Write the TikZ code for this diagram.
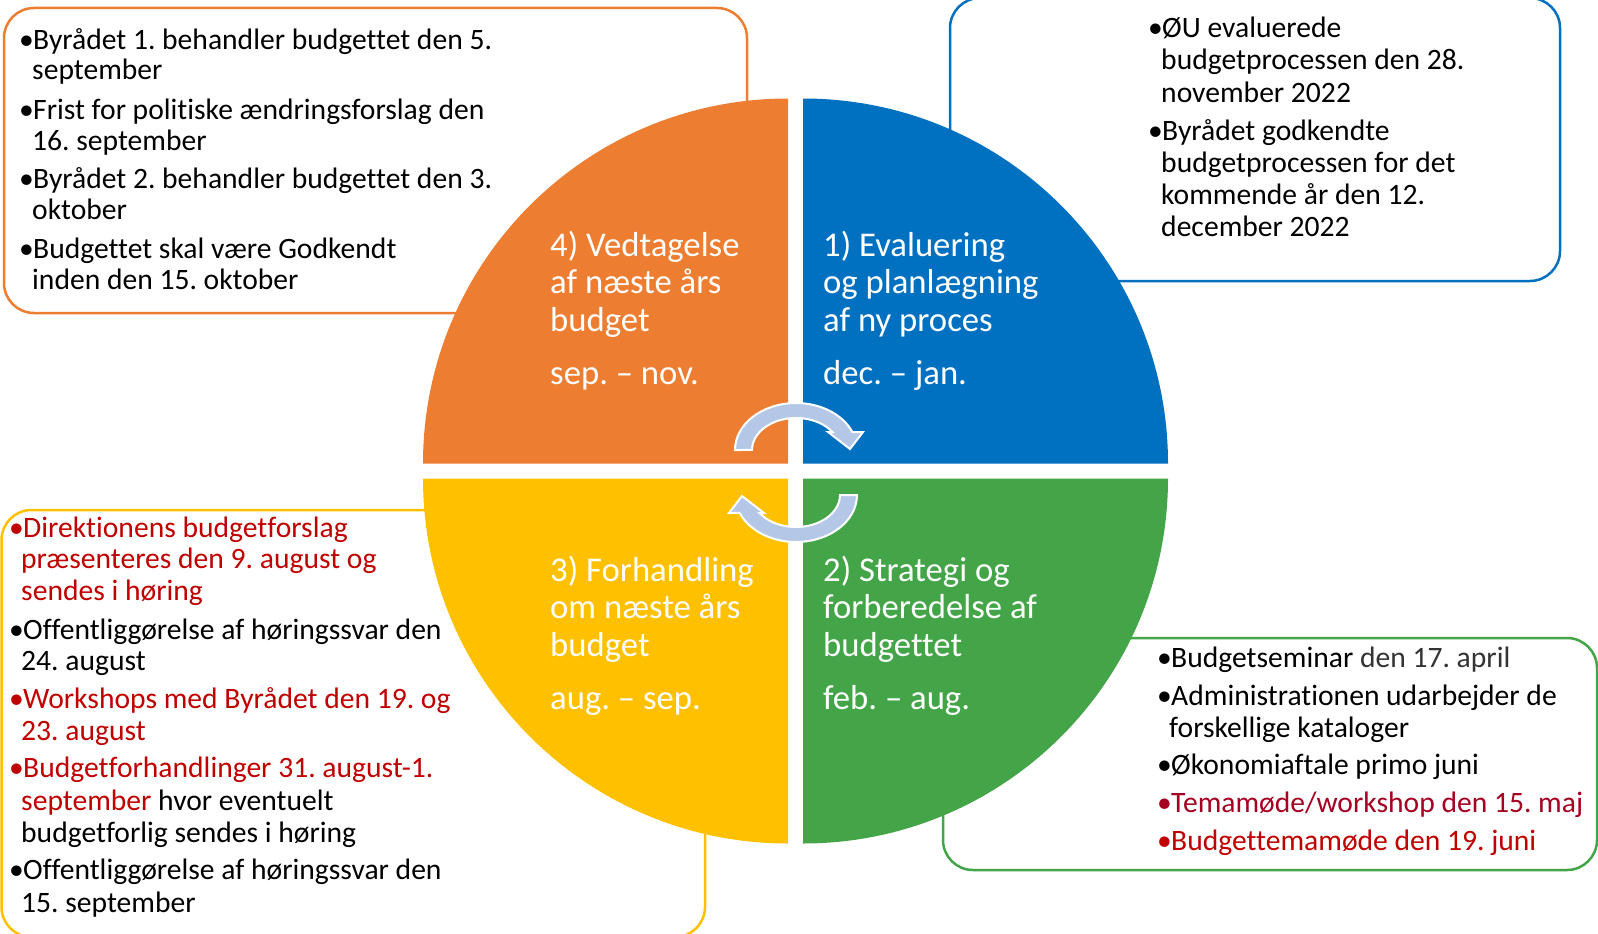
\documentclass[tikz,border=0pt]{standalone}
\usepackage{fontspec}
\setmainfont{Carlito}[Ligatures={NoCommon,NoRequired,NoContextual},Contextuals={NoAlternate}]
\frenchspacing
\definecolor{qorange}{HTML}{ED7D31}
\definecolor{qblue}{HTML}{0070C0}
\definecolor{qyellow}{HTML}{FFC000}
\definecolor{qgreen}{HTML}{43A548}
\definecolor{txtred}{HTML}{C00000}
\definecolor{txtdred}{HTML}{A50021}
\definecolor{txtgray}{HTML}{333333}
\definecolor{arrowfill}{HTML}{B4C7E7}
\newcommand\myBody{\fontsize{29.6}{32}\selectfont}
\newcommand\myQuad{\fontsize{34.7}{37}\selectfont}
\newcommand\mybul[1]{\makebox[13pt][l]{\hspace*{-1pt}•}#1}
\begin{document}
\begin{tikzpicture}[x=1pt,y=-1pt,
  boxline/.style={line width=2.5pt, rounded corners=30pt},
  btxt/.style={anchor=base west, inner sep=0pt, font=\myBody, text=black},
  qtxt/.style={anchor=base west, inner sep=0pt, font=\myQuad, text=white},
  cyclearrow/.style={fill=arrowfill, draw=white, line width=2pt, line join=miter}]
\useasboundingbox (0,0) rectangle (1598,934);
\fill[white] (0,0) rectangle (1598,934);

% boxes (behind the pie)
\draw[boxline, qorange] (4,8) rectangle (747,313);
\draw[boxline, qblue] (950,-2) rectangle (1560,281);
\draw[boxline, qyellow] (1.5,510) rectangle (705,937);
\draw[boxline, qgreen] (943,638) rectangle (1597,870);

% pie quadrants
\fill[qorange] (788,463.5) -- (423,463.5) arc[start angle=180, end angle=270, radius=365] -- cycle;
\fill[qblue] (803,463.5) -- (803,98.5) arc[start angle=270, end angle=360, radius=365] -- cycle;
\fill[qgreen] (803,478.5) -- (1168,478.5) arc[start angle=0, end angle=90, radius=365] -- cycle;
\fill[qyellow] (788,478.5) -- (788,843.5) arc[start angle=90, end angle=180, radius=365] -- cycle;

% circular arrows
\filldraw[cyclearrow] (735,450) arc[start angle=180, end angle=337.5, x radius=61, y radius=47]
  -- (863,432) -- (850,449) -- (828,432) -- (832.4,432)
  arc[start angle=325.8, end angle=180, x radius=44, y radius=32] -- cycle;
\begin{scope}[rotate around={180:(796,472.5)}]
\filldraw[cyclearrow] (735,450) arc[start angle=180, end angle=337.5, x radius=61, y radius=47]
  -- (863,432) -- (850,449) -- (828,432) -- (832.4,432)
  arc[start angle=325.8, end angle=180, x radius=44, y radius=32] -- cycle;
\end{scope}

% quadrant labels
\node[qtxt] (q4a) at (550,256) {4) Vedtagelse};
\node[qtxt] (q4b) at (550,293) {af næste års};
\node[qtxt] (q4c) at (550,331) {budget};
\node[qtxt] (q4d) at (550,384) {sep. – nov.};
\node[qtxt] (q1a) at (823,256) {1) Evaluering};
\node[qtxt] (q1b) at (823,293) {og planlægning};
\node[qtxt] (q1c) at (823,331) {af ny proces};
\node[qtxt] (q1d) at (823,384) {dec. – jan.};
\node[qtxt] (q3a) at (550,581) {3) Forhandling};
\node[qtxt] (q3b) at (550,618) {om næste års};
\node[qtxt] (q3c) at (550,656) {budget};
\node[qtxt] (q3d) at (550,709) {aug. – sep.};
\node[qtxt] (q2a) at (823,581) {2) Strategi og};
\node[qtxt] (q2b) at (823,618) {forberedelse af};
\node[qtxt] (q2c) at (823,656) {budgettet};
\node[qtxt] (q2d) at (823,709) {feb. – aug.};

% orange box text
\node[btxt] (o1) at (20,49) {\mybul{Byrådet 1. behandler budgettet den 5.}};
\node[btxt] (o2) at (32,80) {september};
\node[btxt] (o3) at (20,119) {\mybul{Frist for politiske ændringsforslag den}};
\node[btxt] (o4) at (32,150) {16. september};
\node[btxt] (o5) at (20,188) {\mybul{Byrådet 2. behandler budgettet den 3.}};
\node[btxt] (o6) at (32,219) {oktober};
\node[btxt] (o7) at (20,258) {\mybul{Budgettet skal være Godkendt}};
\node[btxt] (o8) at (32,289) {inden den 15. oktober};

% blue box text
\node[btxt] (b1) at (1149,38) {\mybul{ØU evaluerede}};
\node[btxt] (b2) at (1161,70) {budgetprocessen den 28.};
\node[btxt] (b3) at (1161,102) {november 2022};
\node[btxt] (b4) at (1149,140) {\mybul{Byrådet godkendte}};
\node[btxt] (b5) at (1161,172) {budgetprocessen for det};
\node[btxt] (b6) at (1161,204) {kommende år den 12.};
\node[btxt] (b7) at (1161,236) {december 2022};

% yellow box text
\node[btxt, text=txtred] (y1) at (10,537) {\mybul{Direktionens budgetforslag}};
\node[btxt, text=txtred] (y2) at (21,568) {præsenteres den 9. august og};
\node[btxt, text=txtred] (y3) at (21,600) {sendes i høring};
\node[btxt] (y4) at (10,639) {\mybul{Offentliggørelse af høringssvar den}};
\node[btxt] (y5) at (21,670) {24. august};
\node[btxt, text=txtred] (y6) at (10,708) {\mybul{Workshops med Byrådet den 19. og}};
\node[btxt, text=txtred] (y7) at (21,740) {23. august};
\node[btxt, text=txtred] (y8) at (10,777) {\mybul{Budgetforhandlinger 31. august-1.}};
\node[btxt] (y9) at (21,810) {\textcolor{txtred}{september} hvor eventuelt};
\node[btxt] (y10) at (21,842) {budgetforlig sendes i høring};
\node[btxt] (y11) at (10,879) {\mybul{Offentliggørelse af høringssvar den}};
\node[btxt] (y12) at (21,912) {15. september};

% green box text
\node[btxt] (g1) at (1158,667) {\mybul{Budgetseminar \textcolor{txtgray}{den 17. april}}};
\node[btxt] (g2) at (1158,705) {\mybul{Administrationen udarbejder de}};
\node[btxt] (g3) at (1169,737) {forskellige kataloger};
\node[btxt] (g4) at (1158,774) {\mybul{Økonomiaftale primo juni}};
\node[btxt, text=txtdred] (g5) at (1158,812) {\mybul{Temamøde/workshop den 15. maj}};
\node[btxt, text=txtred] (g6) at (1158,850) {\mybul{Budgettemamøde den 19. juni}};
\end{tikzpicture}
\end{document}
